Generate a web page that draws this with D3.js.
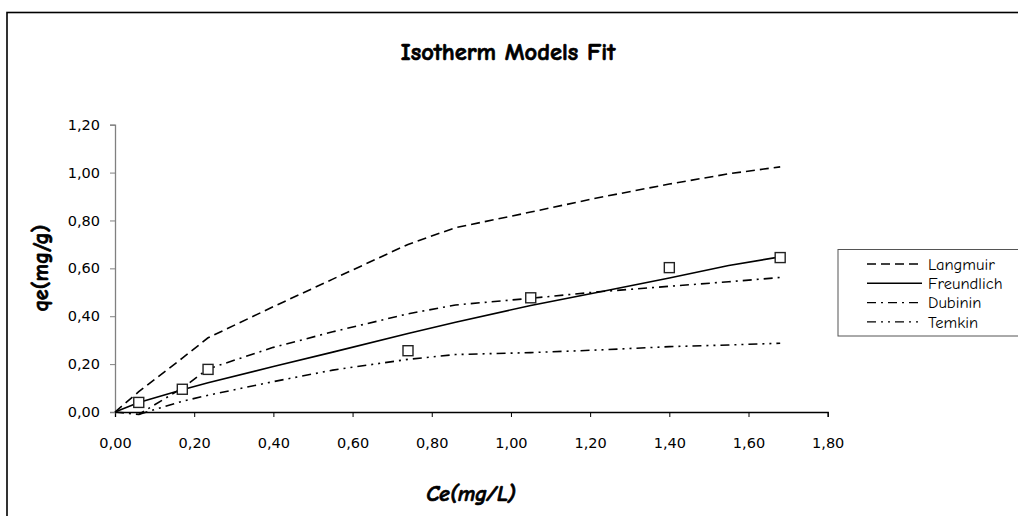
<!DOCTYPE html>
<html>
<head>
<meta charset="utf-8">
<script src="https://cdn.jsdelivr.net/npm/d3@7"></script>
<style>
  body { margin: 0; background: #fff; }
  svg { display: block; }
</style>
</head>
<body>
<script>
const width = 1018;
const height = 516;
const margin = { top: 124.7, left: 115, right: 190.3, bottom: 104 };

// datos
const ceObs = [0.06, 0.17, 0.235, 0.74, 1.05, 1.40, 1.68];
const qeObs = [0.04, 0.095, 0.178, 0.256, 0.477, 0.603, 0.645];

const ceModel = [0, 0.06, 0.17, 0.235, 0.40, 0.55, 0.74, 0.86, 1.05, 1.22, 1.40, 1.55, 1.68];
const langmuir = [0, 0.085, 0.225, 0.31, 0.44, 0.555, 0.70, 0.77, 0.835, 0.895, 0.952, 0.995, 1.024];
const freundlich = [0, 0.04, 0.093, 0.122, 0.19, 0.25, 0.328, 0.375, 0.445, 0.50, 0.56, 0.612, 0.648];
const dubinin = [0, -0.01, 0.10, 0.18, 0.27, 0.335, 0.41, 0.447, 0.475, 0.502, 0.525, 0.544, 0.562];
const temkin = [null, -0.01, 0.045, 0.07, 0.127, 0.175, 0.22, 0.24, 0.248, 0.259, 0.273, 0.28, 0.287];

const xTicks = [0, 0.2, 0.4, 0.6, 0.8, 1.0, 1.2, 1.4, 1.6, 1.8];
const yTicks = [0, 0.2, 0.4, 0.6, 0.8, 1.0, 1.2];

const series = [
  { name: "Langmuir", values: langmuir, dash: "9,5" },
  { name: "Freundlich", values: freundlich, dash: null },
  { name: "Dubinin", values: dubinin, dash: "9,5,2,5" },
  { name: "Temkin", values: temkin, dash: "9,5,2,5,2,5" },
];

const fuenteComic = "'Comic Sans MS', 'Comic Neue', 'DejaVu Sans', sans-serif";
const fmt = (v) => v.toFixed(2).replace(".", ",");

const svg = d3
  .select("body")
  .append("svg")
  .attr("width", width)
  .attr("height", height);

// marco exterior
svg
  .append("rect")
  .attr("x", 7)
  .attr("y", 12.5)
  .attr("width", 1030)
  .attr("height", 520)
  .attr("fill", "none")
  .attr("stroke", "#000")
  .attr("stroke-width", 1.6);

const escalaX = d3
  .scaleLinear()
  .domain([0, 1.8])
  .range([margin.left, width - margin.right]);

const escalaY = d3
  .scaleLinear()
  .domain([0, 1.2])
  .range([height - margin.bottom, margin.top]);

// ejes
const ejeX = svg
  .append("g")
  .attr("transform", `translate(0, ${escalaY(0)})`)
  .call(d3.axisBottom(escalaX).tickValues(xTicks).tickFormat(fmt).tickSize(5).tickPadding(21));

const ejeY = svg
  .append("g")
  .attr("transform", `translate(${escalaX(0)}, 0)`)
  .call(d3.axisLeft(escalaY).tickValues(yTicks).tickFormat(fmt).tickSize(5).tickPadding(10));

[ejeX, ejeY].forEach((eje) => {
  eje.selectAll("text")
    .attr("font-family", "'DejaVu Sans', Verdana, sans-serif")
    .attr("font-size", 14.5)
    .attr("fill", "#000");
  eje.selectAll("line").attr("stroke", "#000");
});
ejeX.select(".domain").attr("stroke", "#000").attr("stroke-width", 1.3);
ejeY.select(".domain").attr("stroke", "#808080").attr("stroke-width", 1.3);
ejeY.selectAll("line").attr("stroke", "#808080");

// curvas de los modelos
const generadorDeLineas = (vals) =>
  d3
    .line()
    .defined((d, i) => vals[i] !== null)
    .x((d, i) => escalaX(ceModel[i]))
    .y((d, i) => escalaY(vals[i]))(vals);

svg
  .append("g")
  .selectAll("path")
  .data(series)
  .join("path")
  .attr("d", (d) => generadorDeLineas(d.values))
  .attr("fill", "none")
  .attr("stroke", "#000")
  .attr("stroke-width", 1.6)
  .attr("stroke-dasharray", (d) => d.dash);

// puntos experimentales
svg
  .append("g")
  .selectAll("rect")
  .data(ceObs)
  .join("rect")
  .attr("x", (d) => escalaX(d) - 5)
  .attr("y", (d, i) => escalaY(qeObs[i]) - 5)
  .attr("width", 10)
  .attr("height", 10)
  .attr("fill", "#fff")
  .attr("stroke", "#222")
  .attr("stroke-width", 1.4);

// titulos
const textoNegrita = (sel) =>
  sel
    .attr("font-family", fuenteComic)
    .attr("font-weight", "bold")
    .attr("fill", "#000")
    .attr("stroke", "#000")
    .attr("stroke-width", 0.7);

svg
  .append("text")
  .attr("x", 508)
  .attr("y", 60)
  .attr("text-anchor", "middle")
  .attr("font-size", 24.5)
  .call(textoNegrita)
  .text("Isotherm Models Fit");

svg
  .append("text")
  .attr("x", 471)
  .attr("y", 501)
  .attr("text-anchor", "middle")
  .attr("font-style", "italic")
  .attr("font-size", 22)
  .call(textoNegrita)
  .text("Ce(mg/L)");

svg
  .append("text")
  .attr("transform", "translate(48, 268) rotate(-90)")
  .attr("text-anchor", "middle")
  .attr("font-size", 22)
  .call(textoNegrita)
  .text("qe(mg/g)");

// leyenda
const leyenda = svg.append("g");
leyenda
  .append("rect")
  .attr("x", 838)
  .attr("y", 249.5)
  .attr("width", 200)
  .attr("height", 86.5)
  .attr("fill", "#fff")
  .attr("stroke", "#555")
  .attr("stroke-width", 1);

const filas = leyenda
  .selectAll("g")
  .data(series)
  .join("g")
  .attr("transform", (d, i) => `translate(0, ${264 + i * 19.3})`);

filas
  .append("line")
  .attr("x1", 867)
  .attr("x2", 922)
  .attr("stroke", "#000")
  .attr("stroke-width", 1.4)
  .attr("stroke-dasharray", (d) => d.dash);

filas
  .append("text")
  .attr("x", 928)
  .attr("dy", "0.35em")
  .attr("font-family", fuenteComic)
  .attr("font-size", 16.5)
  .text((d) => d.name);
</script>
</body>
</html>
